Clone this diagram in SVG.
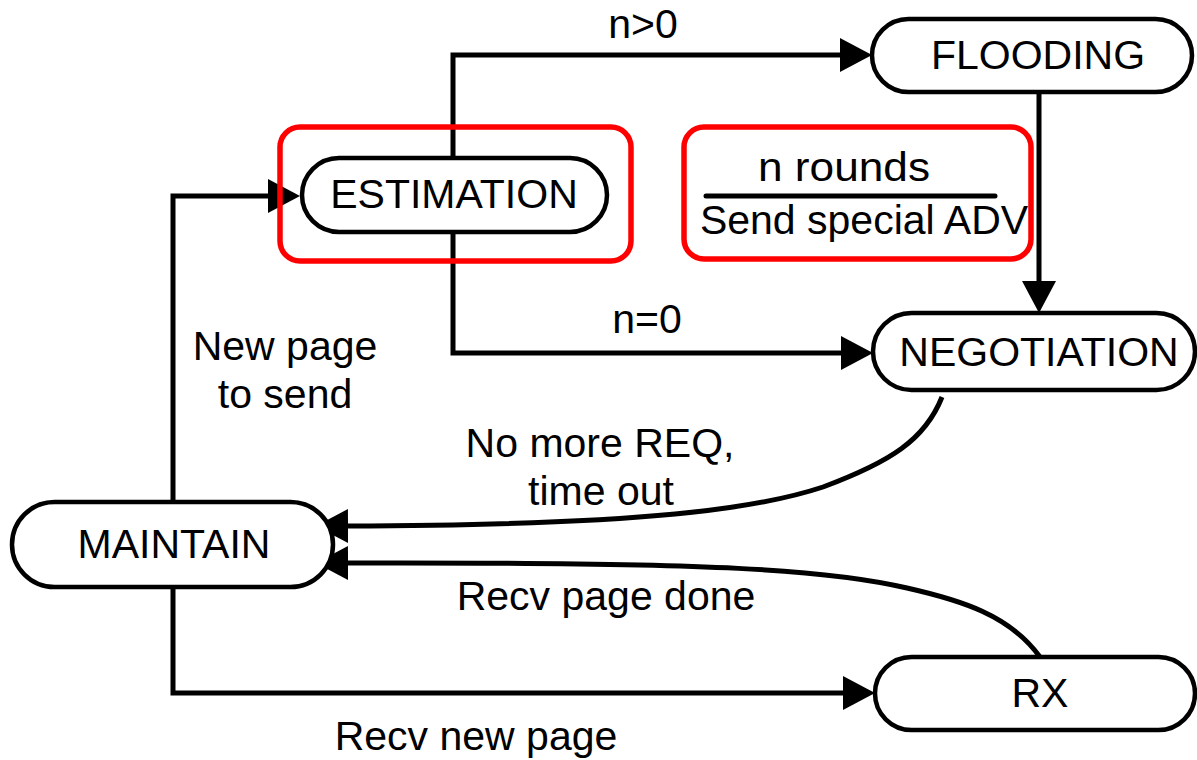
<svg xmlns="http://www.w3.org/2000/svg" width="1197" height="760" viewBox="0 0 1197 760">
  <style>
    text { font-family: "Liberation Sans", Arial, sans-serif; font-size: 41px; fill: #000; }
    .state rect { fill: #fff; stroke: #000; stroke-width: 4.5; }
    .state text { text-anchor: middle; }
    .edge { fill: none; stroke: #000; stroke-width: 5; stroke-linejoin: miter; }
    .label { text-anchor: middle; }
    .mark { fill: none; stroke: #ff0000; stroke-width: 5.5; }
  </style>
  <defs>
    <marker id="arrow" viewBox="0 0 32 34" markerWidth="32" markerHeight="34" refX="0" refY="17" orient="auto" markerUnits="userSpaceOnUse">
      <path d="M0,0 L32,17 L0,34 z" fill="#000"/>
    </marker>
  </defs>

  <rect width="1197" height="760" fill="#fff"/>

  <!-- transitions -->
  <g id="connectors">
    <path class="edge" d="M173,502 V196 H268" marker-end="url(#arrow)"/>
    <path class="edge" d="M453,158 V55 H840" marker-end="url(#arrow)"/>
    <path class="edge" d="M453,232 V353 H841" marker-end="url(#arrow)"/>
    <path class="edge" d="M1039,92 V281" marker-end="url(#arrow)"/>
    <path class="edge" d="M942,397 C925,440 890,462 823,487 C760,508 650,525 348,526" marker-end="url(#arrow)"/>
    <path class="edge" d="M1040,657 C1010,615 960,600 907,588 C830,570 720,562 348,563" marker-end="url(#arrow)"/>
    <path class="edge" d="M173,587 V693 H843" marker-end="url(#arrow)"/>
  </g>

  <!-- transition labels -->
  <g id="labels">
    <text class="label" x="643" y="38">n&gt;0</text>
    <text class="label" x="647" y="333">n=0</text>
    <text class="label" x="285" y="360">New page</text>
    <text class="label" x="285" y="408">to send</text>
    <text class="label" x="600" y="457">No more REQ,</text>
    <text class="label" x="601" y="505">time out</text>
    <text class="label" x="606" y="610">Recv page done</text>
    <text class="label" x="476" y="750">Recv new page</text>
  </g>

  <!-- states -->
  <g id="estimation" class="state">
    <rect x="302" y="158" width="305" height="74" rx="37"/>
    <text x="454" y="208">ESTIMATION</text>
  </g>
  <g id="flooding" class="state">
    <rect x="872" y="19" width="320" height="73" rx="36.5"/>
    <text x="1038" y="69">FLOODING</text>
  </g>
  <g id="negotiation" class="state">
    <rect x="873" y="313" width="322" height="77" rx="38.5"/>
    <text x="1039" y="366">NEGOTIATION</text>
  </g>
  <g id="maintain" class="state">
    <rect x="12" y="502" width="321" height="85" rx="42.5"/>
    <text x="174" y="558">MAINTAIN</text>
  </g>
  <g id="rx" class="state">
    <rect x="875" y="657" width="320" height="73" rx="36.5"/>
    <text x="1040" y="707">RX</text>
  </g>

  <!-- highlight around ESTIMATION -->
  <g id="estimation-highlight">
    <rect class="mark" x="280" y="127" width="351" height="134" rx="20"/>
  </g>

  <!-- flooding action note -->
  <g id="flooding-note">
    <rect class="mark" x="684" y="127" width="347" height="132" rx="20"/>
    <text x="844" y="181" text-anchor="middle" font-size="48" textLength="172" lengthAdjust="spacingAndGlyphs">n rounds</text>
    <line x1="706" y1="196" x2="995" y2="196" stroke="#000" stroke-width="5" stroke-linecap="round"/>
    <text x="864" y="234" text-anchor="middle">Send special ADV</text>
  </g>
</svg>
